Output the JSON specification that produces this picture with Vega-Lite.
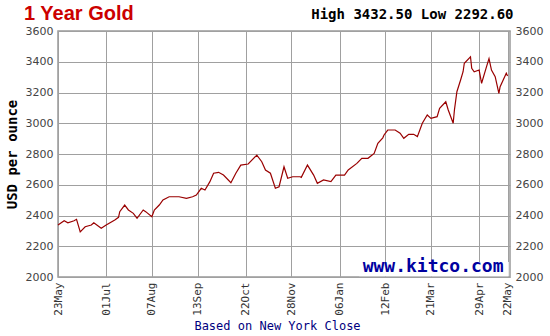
{
  "$schema": "https://vega.github.io/schema/vega-lite/v6.json",
  "width": 452,
  "height": 246,
  "autosize": "none",
  "padding": {"left": 58, "top": 31, "right": 40, "bottom": 59},
  "background": "white",
  "title": {"text": "1 Year Gold", "anchor": "start", "frame": "group", "dx": -34, "offset": 10, "dy": 26, "font": "Liberation Sans", "fontSize": 20, "fontWeight": "bold", "color": "#cc0000"},
  "config": {"view": {"stroke": "#999999", "strokeWidth": 1.5}},
  "resolve": {"scale": {"y": "independent"}},
  "layer": [
    {
      "data": {"values": [
        {"date": "2024-05-23", "price": 2338}, {"date": "2024-05-28", "price": 2366}, {"date": "2024-05-31", "price": 2353},
        {"date": "2024-06-05", "price": 2366}, {"date": "2024-06-07", "price": 2375}, {"date": "2024-06-10", "price": 2293},
        {"date": "2024-06-14", "price": 2327}, {"date": "2024-06-19", "price": 2338}, {"date": "2024-06-21", "price": 2353},
        {"date": "2024-06-27", "price": 2317}, {"date": "2024-07-01", "price": 2338}, {"date": "2024-07-08", "price": 2371},
        {"date": "2024-07-11", "price": 2388}, {"date": "2024-07-12", "price": 2425}, {"date": "2024-07-16", "price": 2468},
        {"date": "2024-07-19", "price": 2436}, {"date": "2024-07-23", "price": 2414}, {"date": "2024-07-26", "price": 2382},
        {"date": "2024-07-31", "price": 2436}, {"date": "2024-08-02", "price": 2425}, {"date": "2024-08-07", "price": 2392},
        {"date": "2024-08-09", "price": 2436}, {"date": "2024-08-13", "price": 2468}, {"date": "2024-08-16", "price": 2501},
        {"date": "2024-08-21", "price": 2522}, {"date": "2024-08-26", "price": 2522}, {"date": "2024-08-29", "price": 2522},
        {"date": "2024-09-04", "price": 2512}, {"date": "2024-09-09", "price": 2522}, {"date": "2024-09-12", "price": 2533},
        {"date": "2024-09-16", "price": 2577}, {"date": "2024-09-19", "price": 2566}, {"date": "2024-09-23", "price": 2620},
        {"date": "2024-09-26", "price": 2675}, {"date": "2024-09-30", "price": 2681}, {"date": "2024-10-04", "price": 2663},
        {"date": "2024-10-10", "price": 2613}, {"date": "2024-10-14", "price": 2675}, {"date": "2024-10-18", "price": 2728},
        {"date": "2024-10-24", "price": 2735}, {"date": "2024-10-31", "price": 2793}, {"date": "2024-11-04", "price": 2750},
        {"date": "2024-11-07", "price": 2696}, {"date": "2024-11-11", "price": 2675}, {"date": "2024-11-15", "price": 2577},
        {"date": "2024-11-18", "price": 2587}, {"date": "2024-11-22", "price": 2717}, {"date": "2024-11-25", "price": 2642},
        {"date": "2024-11-29", "price": 2652}, {"date": "2024-12-05", "price": 2652}, {"date": "2024-12-06", "price": 2648},
        {"date": "2024-12-11", "price": 2728}, {"date": "2024-12-16", "price": 2663}, {"date": "2024-12-19", "price": 2609},
        {"date": "2024-12-24", "price": 2631}, {"date": "2024-12-30", "price": 2620}, {"date": "2025-01-03", "price": 2663},
        {"date": "2025-01-10", "price": 2663}, {"date": "2025-01-13", "price": 2696}, {"date": "2025-01-20", "price": 2739},
        {"date": "2025-01-24", "price": 2772}, {"date": "2025-01-29", "price": 2772}, {"date": "2025-02-03", "price": 2804},
        {"date": "2025-02-06", "price": 2870}, {"date": "2025-02-10", "price": 2905}, {"date": "2025-02-11", "price": 2924},
        {"date": "2025-02-14", "price": 2956}, {"date": "2025-02-20", "price": 2956}, {"date": "2025-02-24", "price": 2935},
        {"date": "2025-02-27", "price": 2902}, {"date": "2025-03-03", "price": 2928}, {"date": "2025-03-07", "price": 2928},
        {"date": "2025-03-10", "price": 2913}, {"date": "2025-03-14", "price": 3000}, {"date": "2025-03-18", "price": 3054},
        {"date": "2025-03-21", "price": 3032}, {"date": "2025-03-26", "price": 3043}, {"date": "2025-03-28", "price": 3097},
        {"date": "2025-04-02", "price": 3140}, {"date": "2025-04-04", "price": 3086}, {"date": "2025-04-08", "price": 3000},
        {"date": "2025-04-09", "price": 3086}, {"date": "2025-04-11", "price": 3205}, {"date": "2025-04-14", "price": 3281},
        {"date": "2025-04-16", "price": 3335}, {"date": "2025-04-17", "price": 3390}, {"date": "2025-04-22", "price": 3432.5},
        {"date": "2025-04-23", "price": 3357}, {"date": "2025-04-25", "price": 3335}, {"date": "2025-04-29", "price": 3346},
        {"date": "2025-05-01", "price": 3260}, {"date": "2025-05-05", "price": 3368}, {"date": "2025-05-07", "price": 3420},
        {"date": "2025-05-09", "price": 3346}, {"date": "2025-05-12", "price": 3303}, {"date": "2025-05-15", "price": 3195},
        {"date": "2025-05-16", "price": 3238}, {"date": "2025-05-21", "price": 3325}, {"date": "2025-05-22", "price": 3307}
      ]},
      "mark": {"type": "line", "color": "#990000", "strokeWidth": 1.2},
      "encoding": {
        "x": {
          "field": "date", "type": "temporal",
          "scale": {"domain": [{"year": 2024, "month": 5, "date": 23}, {"year": 2025, "month": 5, "date": 24}]},
          "axis": {
            "values": [
              {"year": 2024, "month": 5, "date": 23}, {"year": 2024, "month": 7, "date": 1}, {"year": 2024, "month": 8, "date": 7},
              {"year": 2024, "month": 9, "date": 13}, {"year": 2024, "month": 10, "date": 22}, {"year": 2024, "month": 11, "date": 28},
              {"year": 2025, "month": 1, "date": 6}, {"year": 2025, "month": 2, "date": 12}, {"year": 2025, "month": 3, "date": 21},
              {"year": 2025, "month": 4, "date": 29}, {"year": 2025, "month": 5, "date": 22}
            ],
            "format": "%d%b", "labelAngle": -90, "labelFont": "DejaVu Sans Mono", "labelFontSize": 11, "labelColor": "#333333",
            "labelPadding": 5, "ticks": false, "domain": false, "labelOverlap": false, "labelFlush": false,
            "grid": true, "gridColor": "#a0a0a0", "gridWidth": 1,
            "title": "Based on New York Close", "titleFont": "DejaVu Sans Mono", "titleFontSize": 12, "titleFontWeight": "normal",
            "titleColor": "#000080", "titlePadding": 5, "titleX": 219
          }
        },
        "y": {
          "field": "price", "type": "quantitative",
          "scale": {"domain": [2000, 3600], "nice": false},
          "axis": {
            "values": [2000, 2200, 2400, 2600, 2800, 3000, 3200, 3400, 3600], "format": "d",
            "labelFont": "DejaVu Sans", "labelFontSize": 11, "labelColor": "#444444", "labelPadding": 5,
            "ticks": false, "domain": false, "grid": true, "gridColor": "#a0a0a0", "gridWidth": 1,
            "title": "USD per ounce", "titleFont": "DejaVu Sans Mono", "titleFontSize": 14, "titleFontWeight": "bold",
            "titleColor": "#000000", "titlePadding": 6
          }
        }
      }
    },
    {
      "data": {"values": [{}]},
      "mark": {"type": "rect", "fill": "white"},
      "encoding": {
        "x": {"datum": {"year": 2025, "month": 1, "date": 22}, "type": "temporal"},
        "x2": {"datum": {"year": 2025, "month": 5, "date": 23}},
        "y": {"datum": 2005, "type": "quantitative", "scale": {"domain": [2000, 3600], "nice": false}, "axis": null},
        "y2": {"datum": 2097}
      }
    },
    {
      "data": {"values": [{}]},
      "mark": {"type": "text", "text": "High 3432.50 Low 2292.60", "font": "DejaVu Sans Mono", "fontSize": 14, "fontWeight": "bold", "color": "#000000", "align": "right", "baseline": "alphabetic", "dx": 6, "dy": -12},
      "encoding": {
        "x": {"datum": {"year": 2025, "month": 5, "date": 22}, "type": "temporal"},
        "y": {"datum": 3600, "type": "quantitative", "scale": {"domain": [2000, 3600], "nice": false}, "axis": null}
      }
    },
    {
      "data": {"values": [{}]},
      "mark": {"type": "text", "text": "www.kitco.com", "font": "DejaVu Sans Mono", "fontSize": 18, "fontWeight": "bold", "color": "#0000a0", "align": "right", "baseline": "bottom", "dx": -4, "dy": -1},
      "encoding": {
        "x": {"datum": {"year": 2025, "month": 5, "date": 22}, "type": "temporal"},
        "y": {
          "datum": 2000, "type": "quantitative", "scale": {"domain": [2000, 3600], "nice": false},
          "axis": {
            "orient": "right", "values": [2000, 2200, 2400, 2600, 2800, 3000, 3200, 3400, 3600], "format": "d",
            "labelFont": "DejaVu Sans", "labelFontSize": 11, "labelColor": "#444444", "labelPadding": 5,
            "ticks": false, "domain": false, "grid": false, "title": null
          }
        }
      }
    }
  ]
}
